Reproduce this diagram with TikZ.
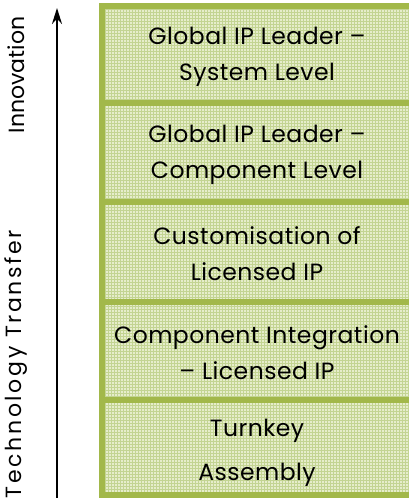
\documentclass[tikz,border=0pt]{standalone}
\usepackage{fontspec}
\setmainfont{Poppins}
\newfontfamily\sidefont[LetterSpace=12]{Poppins}
\newfontfamily\boxfont[LetterSpace=2]{Poppins}
\usetikzlibrary{arrows.meta,patterns}
\definecolor{boxgreen}{HTML}{A2B84A}
\definecolor{boxfill}{HTML}{E6EDCB}
\definecolor{gridgreen}{HTML}{C3D492}
\tikzset{
  lbl/.style={align=center,font=\boxfont\fontsize{23.5}{36}\selectfont,text=black,inner sep=0pt},
  side/.style={rotate=90,font=\fontsize{22}{24}\selectfont,text=black,inner sep=0pt},
  sep/.style={draw=boxgreen,line width=6pt}
}
\begin{document}
\begin{tikzpicture}[x=1pt,y=1pt]
\useasboundingbox (0,0) rectangle (409,498);
\begin{scope}
\clip (0,0) rectangle (409,498);
\fill[boxfill] (102,3) rectangle (412,492);
\fill[pattern=grid,pattern color=gridgreen] (102,3) rectangle (412,492);
\draw[sep] (102,3) rectangle (412,492);
\coordinate (s1l) at (102,395); \coordinate (s1r) at (412,395);
\coordinate (s2l) at (102,296); \coordinate (s2r) at (412,296);
\coordinate (s3l) at (102,196); \coordinate (s3r) at (412,196);
\coordinate (s4l) at (102,98);  \coordinate (s4r) at (412,98);
\draw[sep] (s1l) -- (s1r);
\draw[sep] (s2l) -- (s2r);
\draw[sep] (s3l) -- (s3r);
\draw[sep] (s4l) -- (s4r);
\end{scope}
\node[lbl] (b1) at (257,441) {Global IP Leader –\\System Level};
\node[lbl] (b2) at (257,343) {Global IP Leader –\\Component Level};
\node[lbl] (b3) at (257,244) {Customisation of\\Licensed IP};
\node[lbl] (b4) at (257,145) {Component Integration\\– Licensed IP};
\node[lbl,font=\boxfont\fontsize{23.5}{44}\selectfont] (b5) at (257,45) {Turnkey\\Assembly};
\coordinate (abot) at (57,0);
\coordinate (atop) at (57,490);
\draw[line width=2pt,-{Stealth[length=16pt,width=10pt]}] (abot) -- (atop);
\node[side] (inn) at (16,423) {Innovation};
\node[side,font=\sidefont\fontsize{22}{24}\selectfont] (tt) at (16,134) {Technology Transfer};
\end{tikzpicture}
\end{document}
